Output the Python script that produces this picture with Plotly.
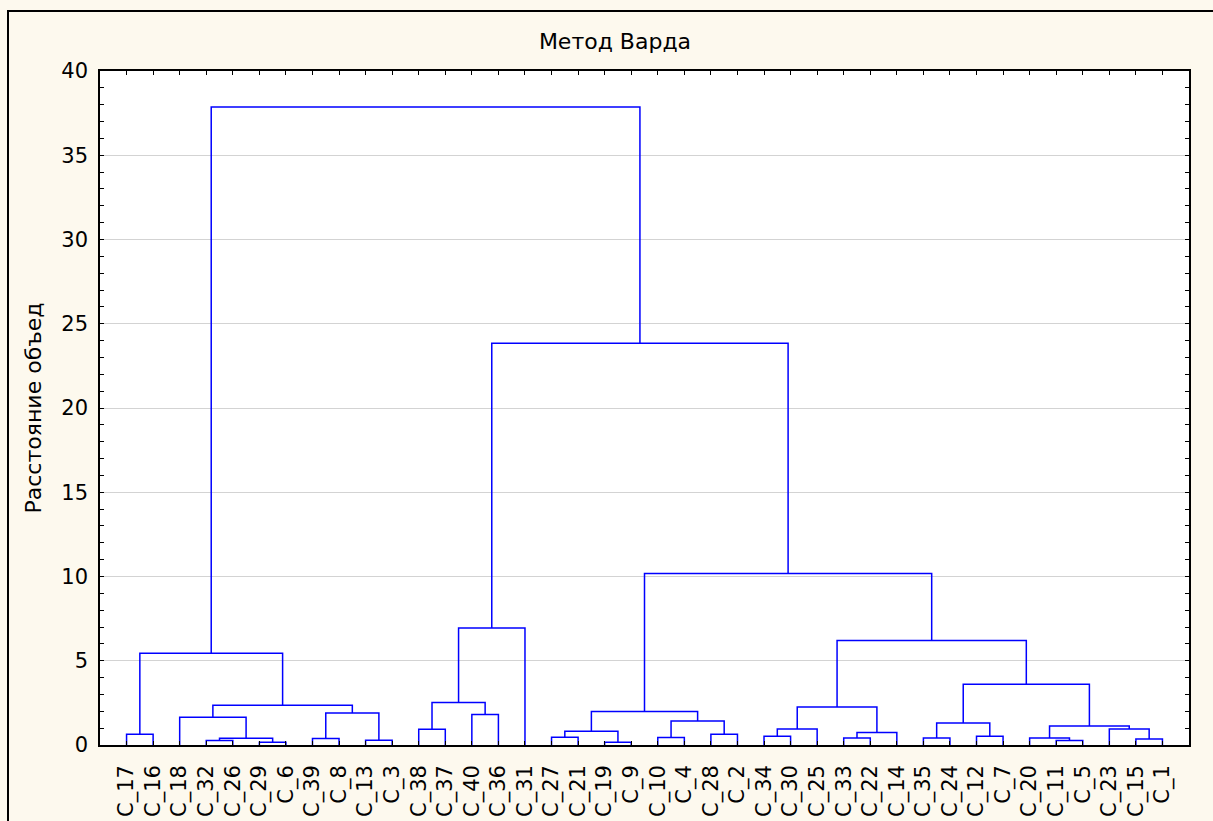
import plotly.graph_objects as go

# ---- data ----
leaves = ["C_17", "C_16", "C_18", "C_32", "C_26", "C_29", "C_6", "C_39", "C_8", "C_13",
          "C_3", "C_38", "C_37", "C_40", "C_36", "C_31", "C_27", "C_21", "C_19", "C_9",
          "C_10", "C_4", "C_28", "C_2", "C_34", "C_30", "C_25", "C_33", "C_22", "C_14",
          "C_35", "C_24", "C_12", "C_7", "C_20", "C_11", "C_5", "C_23", "C_15", "C_1"]

# merges: children are leaf labels (str) or indices of previous merges (int)
merge_a = ["C_17", "C_32", "C_29", 1, "C_18", "C_39", "C_13", 5, 4, 0,
           "C_38", "C_40", 10, 12, "C_27", "C_19", 14, "C_10", "C_28", 17,
           16, "C_34", 21, "C_33", 23, 22, "C_35", "C_12", 26, "C_11",
           "C_20", "C_15", "C_23", 30, 28, 25, 20, 13, 9]
merge_b = ["C_16", "C_26", "C_6", 2, 3, "C_8", "C_3", 6, 7, 8,
           "C_37", "C_36", 11, "C_31", "C_21", "C_9", 15, "C_4", "C_2", 18,
           19, "C_30", "C_25", "C_22", "C_14", 24, "C_24", "C_7", 27, "C_5",
           29, "C_1", 31, 32, 33, 34, 35, 36, 37]
merge_h = [0.64, 0.26, 0.16, 0.40, 1.65, 0.38, 0.28, 1.90, 2.36, 5.44,
           0.93, 1.81, 2.52, 6.94, 0.46, 0.16, 0.81, 0.44, 0.64, 1.43,
           1.99, 0.52, 0.95, 0.42, 0.74, 2.26, 0.42, 0.52, 1.31, 0.26,
           0.42, 0.36, 0.95, 1.13, 3.61, 6.20, 10.18, 23.84, 37.87]

title_text = "Метод Варда"
y_title = "Расстояние объед"

# ---- build dendrogram segments ----
leaf_pos = {name: i + 1 for i, name in enumerate(leaves)}
node_x, node_y = [], []


def child_xy(c):
    if isinstance(c, str):
        return leaf_pos[c], 0.0
    return node_x[c], node_y[c]


xs, ys = [], []
for a, b, h in zip(merge_a, merge_b, merge_h):
    xa, ya = child_xy(a)
    xb, yb = child_xy(b)
    xs += [xa, xa, xb, xb, None]
    ys += [ya, h, h, yb, None]
    node_x.append((xa + xb) / 2)
    node_y.append(h)

fig = go.Figure()
fig.add_trace(go.Scatter(x=xs, y=ys, mode="lines",
                         line=dict(color="#0000FF", width=1.5),
                         hoverinfo="skip", showlegend=False))

W, H = 1213, 821
font_family = "DejaVu Sans"
fig.update_layout(
    width=W, height=H,
    margin=dict(l=100, r=24, t=71, b=H - 745, autoexpand=False),
    paper_bgcolor="#FDF9EE",
    plot_bgcolor="#FFFFFF",
    font=dict(family=font_family, color="#000000", size=21),
    title=dict(text=title_text, x=615 / W, xref="container", xanchor="center",
               y=1 - 41 / H, yref="container", yanchor="middle",
               font=dict(family=font_family, size=22, color="#000000")),
    showlegend=False,
)

fig.update_xaxes(
    range=[0, 41], tickmode="array",
    tickvals=list(range(1, len(leaves) + 1)), ticktext=leaves,
    tickangle=-90, ticks="inside", ticklen=4, tickwidth=1, tickcolor="#000000",
    showline=True, linecolor="#000000", linewidth=1.5, mirror="ticks",
    showgrid=False, zeroline=False, automargin=False,
    tickfont=dict(family=font_family, size=21, color="#000000"),
    ticklabelstandoff=10,
)
fig.update_yaxes(
    range=[0, 40], tick0=0, dtick=5,
    ticks="inside", ticklen=4, tickwidth=1, tickcolor="#000000",
    minor=dict(dtick=1, ticks="inside", ticklen=4, tickcolor="#000000", showgrid=False),
    showline=True, linecolor="#000000", linewidth=1.5, mirror="ticks",
    showgrid=True, gridcolor="#D3D3D3", gridwidth=1, zeroline=False, automargin=False,
    tickfont=dict(family=font_family, size=21, color="#000000"),
    ticklabelstandoff=6,
    title=dict(text=y_title, standoff=14,
               font=dict(family=font_family, size=22, color="#000000")),
)

# outer frame (partially visible in the original screenshot): top and left edges
pl, pr, pt, pb = 100, W - 24, 71, 745
def px(x):
    return (x - pl) / (pr - pl)
def py(y):
    return (pb - y) / (pb - pt)
fig.add_shape(type="line", xref="paper", yref="paper",
              x0=px(7), x1=px(W), y0=py(11), y1=py(11),
              line=dict(color="#000000", width=2))
fig.add_annotation(xref="paper", yref="paper", x=px(7), y=py(10),
                   xanchor="left", yanchor="top", text="", showarrow=False,
                   width=2, height=H - 10, bgcolor="#000000",
                   borderpad=0, borderwidth=0)

fig.write_html("out.html", config={"displayModeBar": False})
